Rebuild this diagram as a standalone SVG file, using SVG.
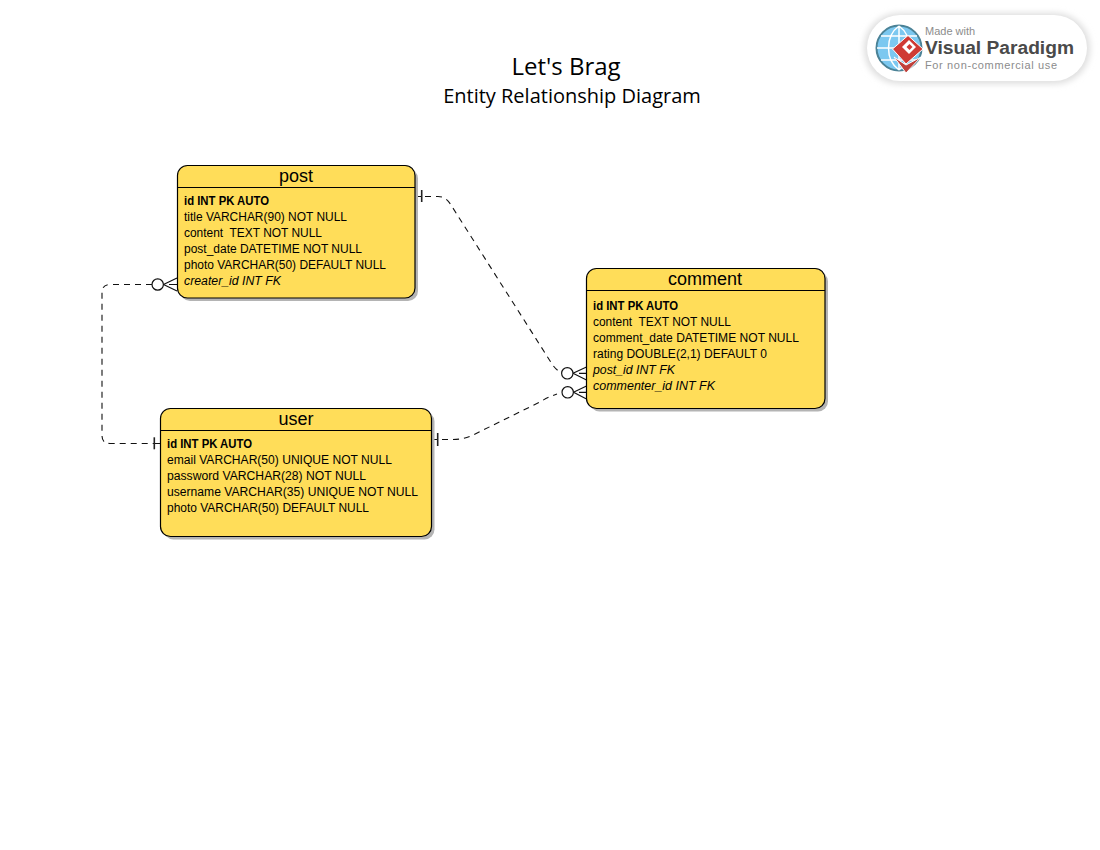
<svg xmlns="http://www.w3.org/2000/svg" width="1100" height="850" viewBox="0 0 1100 850">
<style>
.t{font-family:"Liberation Sans",Arial,sans-serif;font-size:12px;fill:#000}
.b{font-weight:bold}.i{font-style:italic}
.h{font-family:"Liberation Sans",Arial,sans-serif;font-size:18px;fill:#000;text-anchor:middle}
.box{fill:#ffdd59;stroke:#000;stroke-width:1.2}
.sh{fill:#b4b4b4}
.sep{stroke:#000;stroke-width:1;fill:none}
.c{fill:none;stroke:#111;stroke-width:1.1;stroke-dasharray:6 5}
.m{fill:none;stroke:#111;stroke-width:1.2}
.k{fill:none;stroke:#222;stroke-width:1.6}
.o{fill:#fff;stroke:#111;stroke-width:1.2}
.title{font-family:"Open Sans","Noto Sans",sans-serif;fill:#000;text-anchor:middle}
.wm{font-family:"Liberation Sans",Arial,sans-serif}
</style>
<defs><filter id="blur" x="-10%" y="-30%" width="120%" height="160%"><feGaussianBlur stdDeviation="3"/></filter></defs>
<rect width="1100" height="850" fill="#fff"/>
<g id="title">
<text class="title" x="566" y="75" font-size="24">Let's Brag</text>
<text class="title" x="572" y="103" font-size="20">Entity Relationship Diagram</text>
</g>
<g id="watermark">
<rect x="864" y="13" width="226" height="71" rx="35" fill="#dedede" filter="url(#blur)"/>
<rect x="867" y="15" width="220" height="66" rx="33" fill="#fff"/>
<circle cx="899" cy="48" r="22.500" fill="#7cc8f0" stroke="#4b8296" stroke-width="2"/>
<path d="M899 26V70M877 48H921M899 26C885 36 885 60 899 70M899 26C913 36 913 60 899 70M881 36H917M881 60H917" fill="none" stroke="#fff" stroke-width="1.500"/>
<path d="M894 57L906 73L921 57L906 65Z" fill="#c0403a" stroke="#fff" stroke-width="1"/>
<path d="M892.500 49L908 35.500L923 49L906 64Z" fill="#cf3a34" stroke="#fff" stroke-width="1"/>
<path d="M902 47L909 40L916 47L909 54Z" fill="#fff"/>
<path d="M906.500 47L909.500 44L912.500 47L909.500 50Z" fill="#cf3a34"/>
<text class="wm" x="925" y="35" font-size="11" fill="#8c8c8c">Made with</text>
<text class="wm" x="925" y="54" font-size="18" font-weight="bold" fill="#4a4a4a" textLength="149" lengthAdjust="spacingAndGlyphs">Visual Paradigm</text>
<text class="wm" x="925" y="68.500" font-size="11" fill="#8c8c8c" textLength="132">For non-commercial use</text>
</g>
<g id="connectors">
<path class="m" d="M415 196.500H421.500M432 439.500H438M154.500 443.500H160.500"/>
<path class="c" d="M425 196.500H438Q446 196.500 451 205L552 364Q555 368.500 558 370.500"/>
<path class="c" d="M442 439.500H453Q464 439.500 474 434.500L540 402Q548 397 557 394"/>
<path class="c" d="M152 284.500H110Q102 284.500 102 292.500V435.500Q102 443.500 110 443.500H154"/>
<path class="k" d="M421.700 190V202"/><path class="k" d="M437.700 433V446"/><path class="k" d="M154.300 437.300V449.300"/>
<circle class="o" cx="157.700" cy="284.500" r="5.700"/>
<path class="m" d="M163.500 284.500L177 278M163.500 284.500L177 291M169 284.500H177"/>
<circle class="o" cx="567.300" cy="373.300" r="5.700"/>
<path class="m" d="M573 373.300L586.500 367M573 373.300L586.500 380M579 373.300H586.500"/>
<circle class="o" cx="567.700" cy="392.300" r="5.700"/>
<path class="m" d="M573.500 392.300L586.500 386M573.500 392.300L586.500 399M579 392.300H586.500"/>
</g>
<g id="post">
<rect class="sh" x="180" y="168.500" width="238" height="132.500" rx="10"/>
<rect class="box" x="177.500" y="165.500" width="237.500" height="132.500" rx="10"/>
<path class="sep" d="M177.500 187.500H415"/>
<text class="h" x="296" y="182">post</text>
<text class="t b" x="184" y="205" textLength="85" lengthAdjust="spacingAndGlyphs">id INT PK AUTO</text>
<text class="t" x="184" y="221" textLength="163" lengthAdjust="spacingAndGlyphs">title VARCHAR(90) NOT NULL</text>
<text class="t" x="184" y="237" xml:space="preserve" textLength="138" lengthAdjust="spacingAndGlyphs">content  TEXT NOT NULL</text>
<text class="t" x="184" y="253" textLength="178" lengthAdjust="spacingAndGlyphs">post_date DATETIME NOT NULL</text>
<text class="t" x="184" y="269" textLength="202" lengthAdjust="spacingAndGlyphs">photo VARCHAR(50) DEFAULT NULL</text>
<text class="t i" x="184" y="285" textLength="97" lengthAdjust="spacingAndGlyphs">creater_id INT FK</text>
</g>
<g id="user">
<rect class="sh" x="163.500" y="411.500" width="271" height="128" rx="10"/>
<rect class="box" x="160.500" y="408.500" width="271" height="128" rx="10"/>
<path class="sep" d="M160.500 430.500H431.500"/>
<text class="h" x="296" y="425">user</text>
<text class="t b" x="167" y="448" textLength="85" lengthAdjust="spacingAndGlyphs">id INT PK AUTO</text>
<text class="t" x="167" y="464" textLength="225" lengthAdjust="spacingAndGlyphs">email VARCHAR(50) UNIQUE NOT NULL</text>
<text class="t" x="167" y="480" textLength="199" lengthAdjust="spacingAndGlyphs">password VARCHAR(28) NOT NULL</text>
<text class="t" x="167" y="496" textLength="251" lengthAdjust="spacingAndGlyphs">username VARCHAR(35) UNIQUE NOT NULL</text>
<text class="t" x="167" y="512" textLength="202" lengthAdjust="spacingAndGlyphs">photo VARCHAR(50) DEFAULT NULL</text>
</g>
<g id="comment">
<rect class="sh" x="589.500" y="271.500" width="238.500" height="140" rx="10"/>
<rect class="box" x="586.500" y="268.500" width="238.500" height="140" rx="10"/>
<path class="sep" d="M586.500 290.500H825"/>
<text class="h" x="705" y="285">comment</text>
<text class="t b" x="593" y="310" textLength="85" lengthAdjust="spacingAndGlyphs">id INT PK AUTO</text>
<text class="t" x="593" y="326" xml:space="preserve" textLength="138" lengthAdjust="spacingAndGlyphs">content  TEXT NOT NULL</text>
<text class="t" x="593" y="342" textLength="206" lengthAdjust="spacingAndGlyphs">comment_date DATETIME NOT NULL</text>
<text class="t" x="593" y="358" textLength="174" lengthAdjust="spacingAndGlyphs">rating DOUBLE(2,1) DEFAULT 0</text>
<text class="t i" x="593" y="374" textLength="82" lengthAdjust="spacingAndGlyphs">post_id INT FK</text>
<text class="t i" x="593" y="390" textLength="122" lengthAdjust="spacingAndGlyphs">commenter_id INT FK</text>
</g>
</svg>
